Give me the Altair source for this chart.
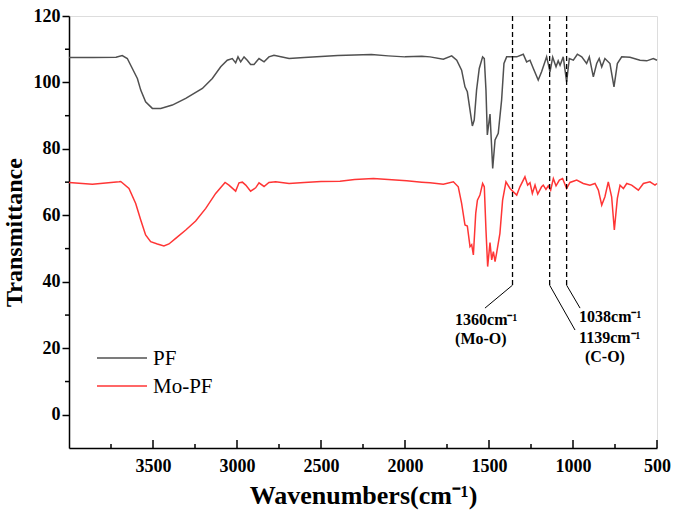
import altair as alt
import pandas as pd

# FTIR spectra: wavenumber (cm-1) and transmittance for each sample
pf_wavenumber = [
    4000, 3860, 3720, 3683, 3653, 3623, 3593, 3573, 3544, 3504, 3454, 3385, 3305, 3206,
    3147, 3097, 3058, 3028, 3008, 2994, 2978, 2958, 2939, 2919, 2899, 2869, 2839, 2810,
    2780, 2690, 2600, 2500, 2400, 2300, 2200, 2100, 2000, 1900, 1851, 1772, 1722, 1692,
    1663, 1643, 1629, 1613, 1599, 1588, 1574, 1558, 1538, 1528, 1518, 1510, 1494, 1478,
    1464, 1445, 1425, 1411, 1395, 1335, 1296, 1276, 1256, 1236, 1207, 1187, 1157, 1147,
    1137, 1121, 1101, 1088, 1077, 1058, 1038, 1022, 998, 974, 948, 919, 903, 879,
    859, 844, 829, 810, 780, 756, 736, 710, 661, 601, 561, 522, 500,
]
pf_transmittance = [
    107.5, 107.5, 107.6, 108.1, 107.2, 104.2, 101.2, 97.7, 94.2, 92.2, 92.2, 93.2, 95.2, 98.2,
    101.2, 104.7, 106.7, 107.2, 105.9, 107.7, 106.2, 107.7, 106.7, 105.4, 105.4, 107.2, 106.2, 107.7,
    108.2, 107.2, 107.5, 107.8, 108.1, 108.3, 108.4, 108.0, 107.7, 107.9, 107.7, 107.0, 108.0, 106.7,
    103.7, 98.7, 97.2, 91.7, 86.9, 88.7, 97.7, 104.2, 107.7, 107.2, 97.7, 84.2, 90.5, 74.1,
    82.7, 84.7, 94.7, 105.7, 107.7, 107.7, 108.5, 106.2, 106.7, 104.2, 100.7, 103.2, 107.7, 105.5,
    103.2, 107.6, 104.7, 106.5, 105.2, 107.7, 100.2, 107.2, 106.7, 108.5, 107.7, 105.7, 107.7, 101.7,
    105.7, 107.2, 104.7, 107.2, 105.7, 98.7, 105.7, 107.7, 107.6, 106.7, 106.5, 107.2, 106.7,
]

mopf_wavenumber = [
    4000, 3861, 3702, 3692, 3643, 3603, 3573, 3544, 3514, 3474, 3435, 3405, 3365, 3305,
    3246, 3186, 3127, 3071, 3048, 3008, 2988, 2968, 2948, 2919, 2889, 2869, 2839, 2810,
    2770, 2690, 2600, 2500, 2387, 2300, 2188, 2100, 1990, 1900, 1851, 1772, 1712, 1683,
    1663, 1643, 1629, 1613, 1603, 1593, 1579, 1569, 1554, 1538, 1528, 1518, 1508, 1494,
    1484, 1474, 1464, 1455, 1435, 1419, 1399, 1375, 1335, 1316, 1286, 1270, 1256, 1242,
    1226, 1210, 1187, 1177, 1161, 1147, 1133, 1117, 1101, 1081, 1062, 1038, 1018, 978,
    939, 899, 869, 849, 829, 810, 790, 770, 754, 736, 720, 700, 680, 651,
    611, 581, 542, 512, 500,
]
mopf_transmittance = [
    69.9, 69.4, 70.1, 70.2, 68.1, 63.6, 58.6, 54.1, 52.1, 51.4, 50.8, 51.4, 53.1, 55.6,
    58.3, 62.1, 66.6, 69.9, 69.1, 67.3, 69.8, 70.0, 69.1, 67.3, 68.3, 69.8, 68.7, 69.9,
    70.1, 69.6, 69.9, 70.2, 70.3, 70.8, 71.1, 70.8, 70.4, 70.0, 69.8, 69.4, 70.1, 68.6,
    63.6, 57.1, 56.8, 50.6, 51.2, 48.1, 60.6, 64.6, 66.1, 69.6, 68.6, 55.6, 44.6, 51.8,
    46.6, 49.1, 46.1, 48.6, 54.6, 64.6, 70.1, 68.1, 66.1, 68.6, 71.6, 69.1, 69.8, 66.6,
    69.1, 66.4, 68.6, 69.1, 67.8, 68.9, 67.6, 71.1, 68.9, 70.6, 71.1, 68.1, 69.9, 70.6,
    69.6, 69.1, 69.6, 67.6, 63.1, 65.6, 70.1, 65.6, 55.6, 65.1, 69.1, 68.1, 69.6, 69.1,
    67.6, 69.6, 70.1, 69.1, 69.6,
]

series_names = ["PF", "Mo-PF"]
series_colors = ["#505050", "#ff3535"]

# marked bands (dashed guides) and their leader-line end points
peak_positions = [1360, 1139, 1038]
peak_guide_bottom = [39, 39, 39]
leader_end_wavenumber = [1524, 988, 958]
leader_end_transmittance = [32.1, 25.5, 32.1]

annotation_texts = ["1360cm\u207b\u00b9", "(Mo-O)", "1038cm\u207b\u00b9", "1139cm\u207b\u00b9", "(C-O)"]
annotation_wavenumber = [1702, 1702, 964, 964, 929]
annotation_transmittance = [27.1, 21.3, 28.0, 21.6, 16.0]

X_MIN, X_MAX = 500, 4000
Y_MIN, Y_MAX = -10, 120
x_tick_values = [3500, 3000, 2500, 2000, 1500, 1000, 500]
x_minor_values = [3750, 3250, 2750, 2250, 1750, 1250, 750]
y_tick_values = [0, 20, 40, 60, 80, 100, 120]
y_minor_values = [10, 30, 50, 70, 90, 110]

FONT = "Times New Roman, Liberation Serif, serif"
W, H = 588, 432

# pixel lengths of the hand-drawn ticks, converted to data units
y_per_px = (Y_MAX - Y_MIN) / H
x_per_px = (X_MAX - X_MIN) / W

spectra = pd.concat([
    pd.DataFrame({"series": "PF", "wavenumber": pf_wavenumber, "T": pf_transmittance}),
    pd.DataFrame({"series": "Mo-PF", "wavenumber": mopf_wavenumber, "T": mopf_transmittance}),
])

x_scale = alt.Scale(domain=[X_MIN, X_MAX], reverse=True, nice=False, zero=False)
y_scale = alt.Scale(domain=[Y_MIN, Y_MAX], nice=False, zero=False)

x_axis = alt.Axis(
    values=x_tick_values, format="d", ticks=False, grid=False, labelFlush=False,
    labelFont=FONT, labelFontWeight="bold", labelFontSize=18, labelColor="black",
    labelPadding=9, domainColor="black", domainWidth=1.5,
    title="Wavenumbers(cm\u207b\u00b9)", titleFont=FONT, titleFontWeight="bold",
    titleFontSize=26, titleColor="black", titlePadding=7,
)
y_axis = alt.Axis(
    values=y_tick_values, format="d", grid=False, labelFlush=False,
    tickSize=7, tickWidth=1.5, tickColor="black",
    labelFont=FONT, labelFontWeight="bold", labelFontSize=18, labelColor="black",
    labelPadding=2, domainColor="black", domainWidth=1.5,
    title="Transmittance", titleFont=FONT, titleFontWeight="bold",
    titleFontSize=24, titleColor="black", titlePadding=7,
)

lines = alt.Chart(spectra).mark_line(strokeWidth=1.5, interpolate="linear").encode(
    x=alt.X("wavenumber:Q", scale=x_scale, axis=x_axis),
    y=alt.Y("T:Q", scale=y_scale, axis=y_axis),
    color=alt.Color("series:N", scale=alt.Scale(domain=series_names, range=series_colors), legend=None),
    detail="series:N",
)

guides_df = pd.DataFrame({"wn": peak_positions, "top": [Y_MAX] * 3, "bottom": peak_guide_bottom})
guides = alt.Chart(guides_df).mark_rule(color="black", strokeWidth=1.3, strokeDash=[5, 3]).encode(
    x=alt.X("wn:Q", scale=x_scale),
    y=alt.Y("top:Q", scale=y_scale),
    y2="bottom:Q",
)

leaders_df = pd.DataFrame({
    "wn": peak_positions, "y0": peak_guide_bottom,
    "wn2": leader_end_wavenumber, "y1": leader_end_transmittance,
})
leaders = alt.Chart(leaders_df).mark_rule(color="black", strokeWidth=1).encode(
    x=alt.X("wn:Q", scale=x_scale), x2="wn2:Q",
    y=alt.Y("y0:Q", scale=y_scale), y2="y1:Q",
)

notes_df = pd.DataFrame({
    "text": annotation_texts, "wn": annotation_wavenumber, "T": annotation_transmittance,
})
notes = alt.Chart(notes_df).mark_text(
    align="left", baseline="alphabetic", font=FONT, fontWeight="bold", fontSize=16, color="black",
).encode(
    x=alt.X("wn:Q", scale=x_scale),
    y=alt.Y("T:Q", scale=y_scale),
    text="text:N",
)

# inward ticks along the bottom axis (major 8 px, minor 4 px)
bottom_ticks_df = pd.DataFrame({
    "wn": x_tick_values + x_minor_values,
    "y0": [Y_MIN] * (len(x_tick_values) + len(x_minor_values)),
    "y1": [Y_MIN + 8 * y_per_px] * len(x_tick_values) + [Y_MIN + 4 * y_per_px] * len(x_minor_values),
})
bottom_ticks = alt.Chart(bottom_ticks_df).mark_rule(color="black", strokeWidth=1.5).encode(
    x=alt.X("wn:Q", scale=x_scale),
    y=alt.Y("y0:Q", scale=y_scale), y2="y1:Q",
)

# outward minor ticks on the left axis (4 px)
left_minor_df = pd.DataFrame({
    "T": y_minor_values,
    "x0": [X_MAX] * len(y_minor_values),
    "x1": [X_MAX + 4 * x_per_px] * len(y_minor_values),
})
left_minor = alt.Chart(left_minor_df).mark_rule(color="black", strokeWidth=1.5).encode(
    y=alt.Y("T:Q", scale=y_scale),
    x=alt.X("x0:Q", scale=x_scale), x2="x1:Q",
)

# legend drawn inside the plot
legend_df = pd.DataFrame({"series": series_names, "row": [0, 1]})
legend_rows = [342, 370]
legend_layers = []
for name, color, ypos in zip(series_names, series_colors, legend_rows):
    one = legend_df[legend_df["series"] == name]
    legend_layers.append(
        alt.Chart(one).mark_rule(color=color, strokeWidth=1.5).encode(
            x=alt.value(28), x2=alt.value(78), y=alt.value(ypos)
        )
    )
    legend_layers.append(
        alt.Chart(one).mark_text(
            align="left", baseline="middle", font=FONT, fontSize=21, color="black"
        ).encode(x=alt.value(84), y=alt.value(ypos + 1), text="series:N")
    )

chart = alt.layer(
    lines, guides, leaders, notes, bottom_ticks, left_minor, *legend_layers
).properties(
    width=W, height=H,
    autosize=alt.AutoSizeParams(type="none"),
    padding={"left": 69, "top": 16, "right": 22, "bottom": 65},
).configure_view(
    stroke="black", strokeWidth=1.5,
).configure(background="white")

chart.save("out.html", embed_options={"renderer": "svg", "actions": False})
